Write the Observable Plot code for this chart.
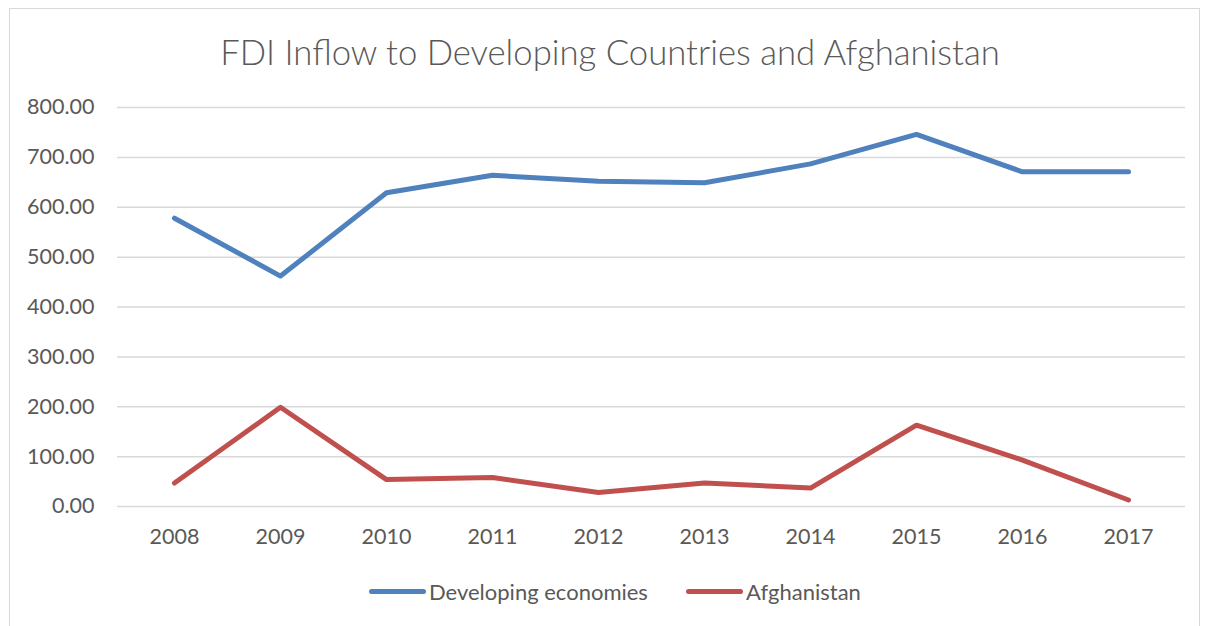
<!DOCTYPE html>
<html>
<head>
<meta charset="utf-8">
<script src="https://cdn.jsdelivr.net/npm/d3@7"></script>
<script src="https://cdn.jsdelivr.net/npm/@observablehq/plot@0.6"></script>
<style>
  html, body { margin: 0; padding: 0; background: #fff; }
  body { width: 1206px; height: 626px; position: relative; overflow: hidden; font-family: Lato, "Open Sans", sans-serif; color: #595959; }
  #frame { position: absolute; left: 9px; top: 8px; width: 1191px; height: 640px; border: 1.5px solid #d9d9d9; box-sizing: border-box; }
  #title { position: absolute; left: 7px; width: 1206px; top: 31px; text-align: center; font-size: 34.7px; font-weight: 300; color: #595959; }
  #chart { position: absolute; left: 0; top: 0; }
  #legend { position: absolute; top: 578px; left: 0; width: 1206px; font-size: 22px; color: #595959; }
  .item { position: absolute; display: flex; align-items: center; }
  .swatch { width: 57px; height: 5px; border-radius: 3px; margin-right: 3px; }
</style>
</head>
<body>
<div id="frame"></div>
<div id="title">FDI Inflow to Developing Countries and Afghanistan</div>
<div id="chart"></div>
<div id="legend"></div>
<script>
const years = ["2008","2009","2010","2011","2012","2013","2014","2015","2016","2017"];
const developing = [578, 462, 629, 664, 652, 649, 687, 746, 671, 671];
const afghanistan = [47, 199, 54, 58, 28, 47, 37, 163, 93, 13];
const seriesNames = ["Developing economies", "Afghanistan"];
const seriesColors = ["#4f81bd", "#c0504d"];
const yTicks = [0, 100, 200, 300, 400, 500, 600, 700, 800];

const rows = [];
years.forEach((y, i) => {
  rows.push({year: y, value: developing[i], series: seriesNames[0]});
  rows.push({year: y, value: afghanistan[i], series: seriesNames[1]});
});

const plot = Plot.plot({
  width: 1206,
  height: 560,
  marginTop: 107,
  marginBottom: 54,
  marginLeft: 117,
  marginRight: 21,
  style: { fontFamily: "Lato, 'Open Sans', sans-serif", fontSize: "21.5px", color: "#595959", background: "transparent" },
  x: { type: "point", domain: years, padding: 0.5, label: null },
  y: { domain: [0, 800], label: null },
  color: { domain: seriesNames, range: seriesColors },
  marks: [
    Plot.gridY(yTicks, { stroke: "#d9d9d9", strokeOpacity: 1, strokeWidth: 1.5 }),
    Plot.axisY(yTicks, { tickSize: 0, tickPadding: 23, tickFormat: d3.format(".2f"), fill: "#595959", fontSize: 21.5 }),
    Plot.axisX({ tickSize: 0, tickPadding: 22, fill: "#595959", fontSize: 21.5 }),
    Plot.line(rows, { x: "year", y: "value", z: "series", stroke: "series", strokeWidth: 5, strokeLinecap: "round", strokeLinejoin: "round" })
  ]
});
document.getElementById("chart").appendChild(plot);

const legend = document.getElementById("legend");
const lefts = [369, 686];
seriesNames.forEach((name, i) => {
  const item = document.createElement("div");
  item.className = "item";
  item.style.left = lefts[i] + "px";
  const sw = document.createElement("div");
  sw.className = "swatch";
  sw.style.background = seriesColors[i];
  const t = document.createElement("span");
  t.textContent = name;
  item.appendChild(sw);
  item.appendChild(t);
  legend.appendChild(item);
});
</script>
</body>
</html>
